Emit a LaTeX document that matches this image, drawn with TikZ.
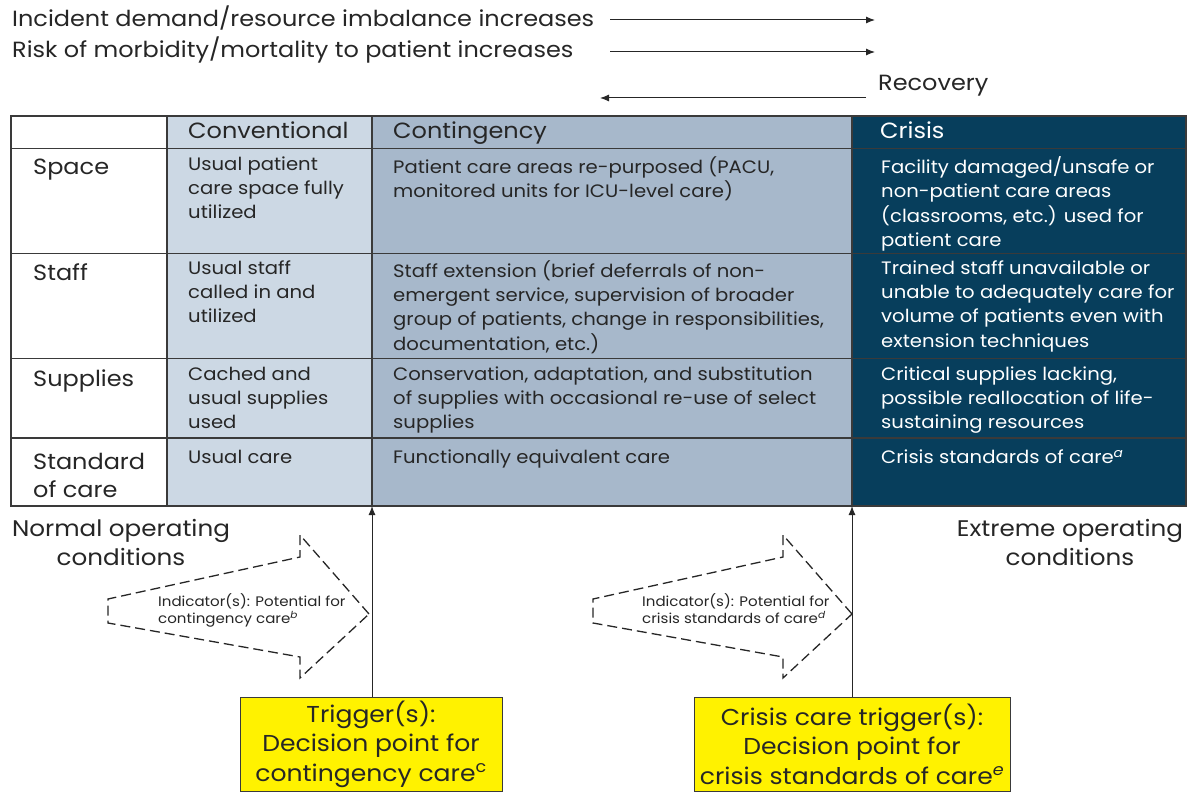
\documentclass[tikz,border=0pt]{standalone}
\usepackage{fontspec}
\setmainfont{Poppins}[FakeStretch=1.09]
\usetikzlibrary{arrows.meta}
\definecolor{conv}{HTML}{CCD8E4}
\definecolor{cont}{HTML}{A7B8CB}
\definecolor{crisis}{HTML}{073E5C}
\definecolor{trig}{HTML}{FFF200}
\definecolor{ink}{HTML}{262626}
\definecolor{grid}{HTML}{3A3A3A}
\begin{document}
\begin{tikzpicture}[x=1pt,y=-1pt,
  txt/.style={inner sep=0pt, text=ink},
  toptxt/.style={txt, anchor=base west, font=\fontsize{22}{26}\selectfont},
  hdr/.style={txt, anchor=base west, font=\fontsize{22}{26}\selectfont},
  rowlab/.style={txt, anchor=base west, align=left, font=\fontsize{22}{28}\selectfont},
  cell/.style={txt, anchor=north west, align=left, font=\fontsize{18}{24.2}\selectfont, execute at begin node=\strut},
  wcell/.style={cell, text=white},
  cond/.style={txt, align=center, font=\fontsize{22.6}{29.5}\selectfont},
  ind/.style={txt, anchor=north west, align=left, font=\fontsize{13.8}{17.5}\selectfont, execute at begin node=\strut},
  trigbox/.style={draw=grid, line width=1pt, fill=trig, text=ink, align=center, inner sep=0pt, minimum width=262pt, minimum height=94pt, font=\fontsize{23}{29.5}\selectfont},
  arr/.style={-{Latex[length=9pt,width=7pt]}, line width=1pt, draw=ink},
  dasharrow/.style={draw=ink, line width=1.3pt, dash pattern=on 10pt off 5pt}
]
\useasboundingbox (0,0) rectangle (1189,794);

% ---- top texts and arrows
\node[toptxt] (t1) at (12,26.5) {Incident demand/resource imbalance increases};
\node[toptxt] (t2) at (12,58) {Risk of morbidity/mortality to patient increases};
\node[toptxt] (rec) at (878,91) {Recovery};
\coordinate (a1s) at (610,20);
\coordinate (a1e) at (875,20);
\coordinate (a2s) at (610,52);
\coordinate (a2e) at (875,52);
\coordinate (a3s) at (866,98);
\coordinate (a3e) at (600,98);
\draw[arr] (a1s) -- (a1e);
\draw[arr] (a2s) -- (a2e);
\draw[arr] (a3s) -- (a3e);

% ---- table fills
\fill[conv] (167,116) rectangle (372,506);
\fill[cont] (372,116) rectangle (852,506);
\fill[crisis] (852,116) rectangle (1186,506);
% grid
\draw[grid, line width=1.1pt] (11,116) rectangle (1186,506);
\foreach \yy in {148.5,253.5,358.5,438} \draw[grid, line width=1.1pt] (11,\yy) -- (1186,\yy);
\foreach \xx in {167,372,852} \draw[grid, line width=1.1pt] (\xx,116) -- (\xx,506);

% header
\node[hdr] (hconv) at (188,139) {Conventional};
\node[hdr] (hcont) at (393,139) {Contingency};
\node[hdr, text=white] (hcris) at (880,139) {Crisis};

% row labels
\node[rowlab] (lspace) at (33,174.5) {Space};
\node[rowlab] (lstaff) at (33,280.5) {Staff};
\node[rowlab] (lsupp) at (33,386.5) {Supplies};
\node[rowlab] (lstd) at (33,469.5) {Standard};
\node[rowlab] (lstd2) at (33,497.5) {of care};

% cells: space
\node[cell] (c11) at (188,156.5) {Usual patient\\care space fully\\utilized};
\node[cell] (c12) at (393,156.5) {Patient care areas re-purposed (PACU,\\monitored units for ICU-level care)};
\node[wcell] (c13) at (881,156.5) {Facility damaged/unsafe or\\non-patient care areas\\(classrooms, etc.) used for\\patient care};
% staff
\node[cell] (c21) at (188,260.5) {Usual staff\\called in and\\utilized};
\node[cell] (c22) at (393,260.5) {Staff extension (brief deferrals of non-\\emergent service, supervision of broader\\group of patients, change in responsibilities,\\documentation, etc.)};
\node[wcell] (c23) at (881,260.5) {Trained staff unavailable or\\unable to adequately care for\\volume of patients even with\\extension techniques};
% supplies
\node[cell] (c31) at (188,366.5) {Cached and\\usual supplies\\used};
\node[cell] (c32) at (393,366.5) {Conservation, adaptation, and substitution\\of supplies with occasional re-use of select\\supplies};
\node[wcell] (c33) at (881,366.5) {Critical supplies lacking,\\possible reallocation of life-\\sustaining resources};
% standard of care
\node[cell] (c41) at (188,446.5) {Usual care};
\node[cell] (c42) at (393,446.5) {Functionally equivalent care};
\node[wcell] (c43) at (881,446.5) {Crisis standards of care\textsuperscript{\itshape a}};

% ---- bottom conditions
\node[cond] (normal) at (121,542.5) {Normal operating\\conditions};
\node[cond] (extreme) at (1070,542.5) {Extreme operating\\conditions};

% ---- dashed indicator arrows
\draw[dasharrow] (369,614) -- (300,535) -- (300,557) -- (108,599) -- (108,623) -- (300,657) -- (300,678) -- cycle;
\node[ind] (ind1) at (158,593) {Indicator(s): Potential for\\contingency care\textsuperscript{\itshape b}};
\draw[dasharrow] (852,614) -- (783,535) -- (783,557) -- (593,599) -- (593,623) -- (783,657) -- (783,678) -- cycle;
\node[ind] (ind2) at (642,593) {Indicator(s): Potential for\\crisis standards of care\textsuperscript{\itshape d}};

% ---- trigger boxes and vertical arrows
\node[trigbox] (trig1) at (371,744) {Trigger(s):\\Decision point for\\contingency care\textsuperscript{c}};
\node[trigbox, minimum width=316pt] (trig2) at (852,744) {Crisis care trigger(s):\\Decision point for\\crisis standards of care\textsuperscript{\itshape e}};
\coordinate (b1) at (372,506);
\coordinate (b2) at (852,506);
\draw[arr] (trig1.north -| b1) -- (b1);
\draw[arr] (trig2.north) -- (b2);
\end{tikzpicture}
\end{document}
